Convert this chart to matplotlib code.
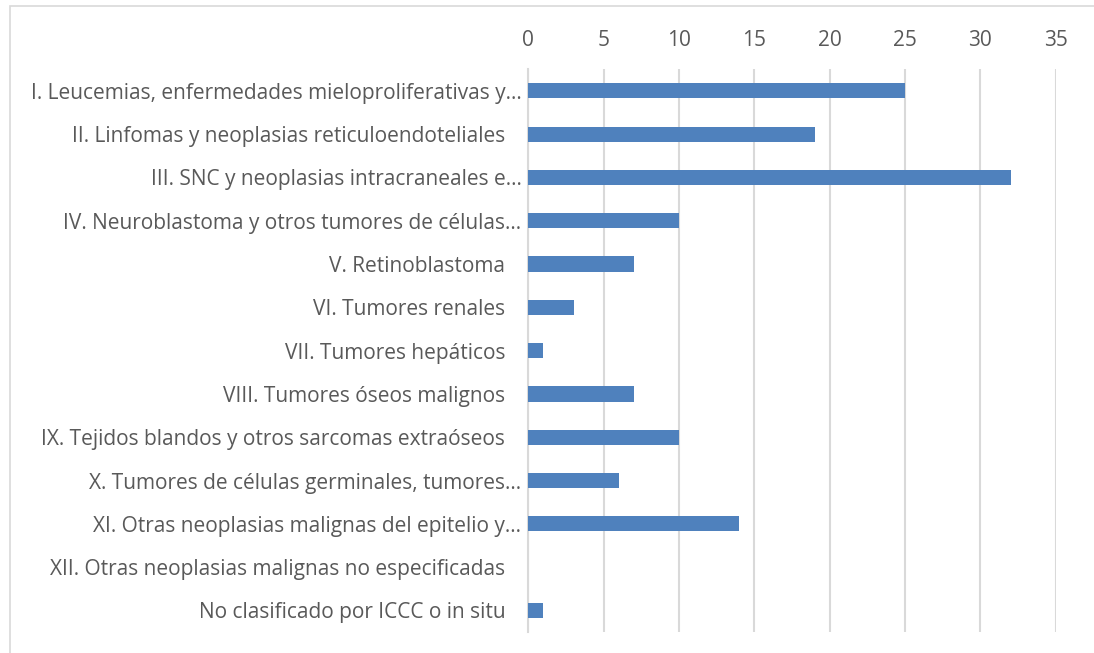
import matplotlib.pyplot as plt
from matplotlib.patches import Rectangle

labels = [
    "I. Leucemias, enfermedades mieloproliferativas y…",
    "II. Linfomas y neoplasias reticuloendoteliales   ",
    "III. SNC y neoplasias intracraneales e…",
    "IV. Neuroblastoma y otros tumores de células…",
    "V. Retinoblastoma   ",
    "VI. Tumores renales   ",
    "VII. Tumores hepáticos   ",
    "VIII. Tumores óseos malignos   ",
    "IX. Tejidos blandos y otros sarcomas extraóseos   ",
    "X. Tumores de células germinales, tumores…",
    "XI. Otras neoplasias malignas del epitelio y…",
    "XII. Otras neoplasias malignas no especificadas   ",
    "No clasificado por ICCC o in situ   ",
]
values = [25, 19, 32, 10, 7, 3, 1, 7, 10, 6, 14, 0, 1]
ticks = [0, 5, 10, 15, 20, 25, 30, 35]

plt.rcParams['font.family'] = ['Open Sans', 'DejaVu Sans']

fig = plt.figure(figsize=(10.94, 6.53), dpi=100)
ax = fig.add_axes([0.483, 0.032, 0.482, 0.862])

pos = list(range(len(labels)))
ax.barh(pos, values, height=0.35, color="#4f81bd", linewidth=0, zorder=3)

ax.set_xlim(0, 35)
ax.set_ylim(len(labels) - 0.5, -0.5)
ax.set_xticks(ticks)
ax.set_yticks(pos)
ax.set_yticklabels(labels)
ax.xaxis.tick_top()
ax.tick_params(axis="x", length=0, pad=13, labelsize=15, labelcolor="#595959")
ax.tick_params(axis="y", length=0, pad=5, labelsize=15, labelcolor="#595959")
ax.grid(axis="x", color="#d9d9d9", linewidth=1.5, zorder=0)
for s in ["top", "right", "bottom"]:
    ax.spines[s].set_visible(False)
ax.spines["left"].set_color("#d9d9d9")
ax.spines["left"].set_linewidth(1.5)

fig.patches.append(Rectangle((10 / 1094, -0.1), 1.2, 1 - 6 / 653 + 0.1,
                             transform=fig.transFigure, fill=False,
                             edgecolor="#d9d9d9", linewidth=1.2))

fig.savefig("out.png", dpi=100)
